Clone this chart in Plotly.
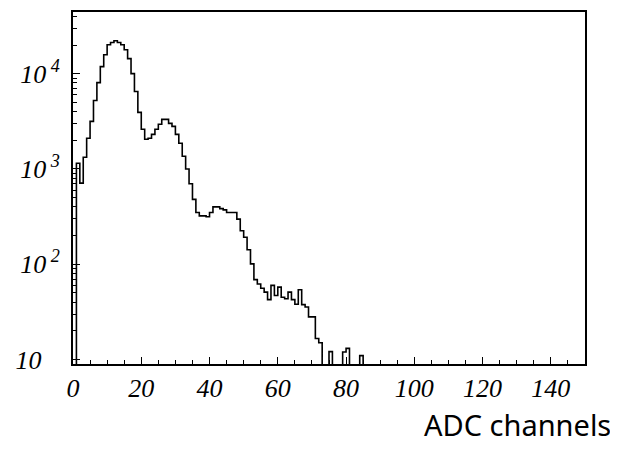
import plotly.graph_objects as go

# Histogram of ADC channels (bin width 1, bins starting at 0); 0 = empty bin
counts = [
    0, 1150, 710, 1330, 2100, 3160, 5240, 8070, 11860, 15810,      # 0-9
    20140, 21280, 22180, 21280, 20140, 17860, 14390, 10020, 6500, 3930,  # 10-19
    2610, 2050, 2100, 2310, 2610, 2950, 3320, 3320, 3010, 2800,    # 20-29
    2310, 1860, 1360, 1000, 700, 480, 349, 322, 322, 315,          # 30-39
    349, 400, 400, 384, 372, 349, 349, 349, 298, 225,              # 40-49
    192, 142, 101, 69, 62, 56, 51, 42.5, 60, 47,                    # 50-59
    57.5, 45, 43.5, 51, 42.5, 38, 54, 37.7, 35.6, 28,               # 60-69
    28, 16.6, 15, 0, 0, 12.1, 0, 0, 0, 12,                          # 70-79
    13.1, 0, 0, 0, 11,                                              # 80-84
]
bin_width = 1.0

x_tick_vals = [0, 20, 40, 60, 80, 100, 120, 140]
x_tick_text = ["0", "20", "40", "60", "80", "100", "120", "140"]
y_tick_vals = [10, 100, 1000, 10000]
y_tick_text = ["10\u2007\u2009", "10<sup> 2</sup>", "10<sup> 3</sup>", "10<sup> 4</sup>"]
y_minor_vals = [m * d for d in (1, 10, 100, 1000, 10000) for m in range(2, 10)]
x_title = "ADC channels"

FLOOR = 1.0  # drawn below the visible log range for empty bins
xs, ys = [0.0], [FLOOR]
for i, c in enumerate(counts):
    v = c if c > 0 else FLOOR
    xs += [i * bin_width, (i + 1) * bin_width]
    ys += [v, v]
xs.append(len(counts) * bin_width)
ys.append(FLOOR)

fig = go.Figure()
fig.add_trace(go.Scatter(x=xs, y=ys, mode="lines",
                         line=dict(color="black", width=1.6),
                         hoverinfo="skip", showlegend=False))

tick_font = dict(family="Liberation Serif", size=26, color="black", style="italic")

# page body has an 8px margin: figure is 610x448 so that the frame lands at
# x 73..585, y 10..364 in the 618x456 window
fig.update_layout(
    width=610, height=448,
    margin=dict(l=65, r=33, t=2, b=92),
    paper_bgcolor="white", plot_bgcolor="white",
    showlegend=False,
    xaxis=dict(
        range=[0, 150], showgrid=False, zeroline=False,
        showline=True, linecolor="black", linewidth=2, mirror=True,
        ticks="inside", ticklen=7, tickwidth=1, tickcolor="black",
        tickmode="array", tickvals=x_tick_vals, ticktext=x_tick_text,
        minor=dict(dtick=5, tick0=0, ticks="inside", ticklen=4, tickwidth=1,
                   tickcolor="black", showgrid=False),
        tickfont=tick_font, ticklabelstandoff=0,
    ),
    yaxis=dict(
        type="log", range=[0.953, 4.648], showgrid=False, zeroline=False,
        showline=True, linecolor="black", linewidth=2, mirror=True,
        ticks="inside", ticklen=7, tickwidth=1, tickcolor="black",
        tickmode="array", tickvals=y_tick_vals, ticktext=y_tick_text,
        minor=dict(tickmode="array", tickvals=y_minor_vals, ticks="inside",
                   ticklen=4, tickwidth=1, tickcolor="black", showgrid=False),
        tickfont=tick_font, ticklabelstandoff=6,
    ),
    annotations=[dict(
        text=x_title, xref="paper", yref="paper",
        x=(613 - 73) / 512, y=(364 - 425) / 354,
        xanchor="right", yanchor="middle", showarrow=False,
        font=dict(family="Noto Sans", size=29, color="black"),
    )],
)

fig.write_html("out.html")
